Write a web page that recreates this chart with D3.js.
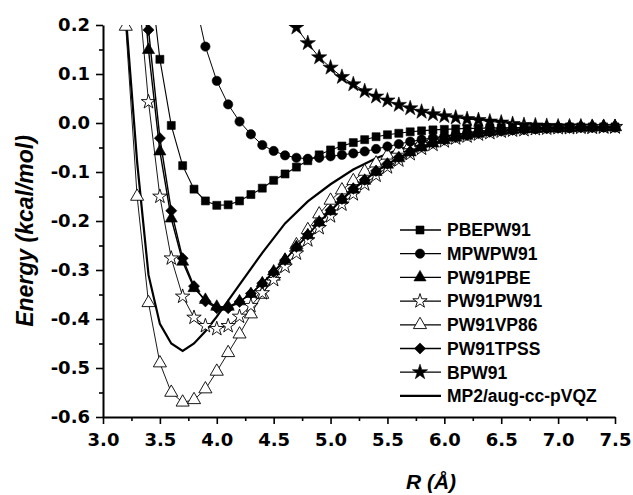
<!DOCTYPE html>
<html><head><meta charset="utf-8">
<script src="https://cdn.jsdelivr.net/npm/d3@7"></script>
<style>
html,body{margin:0;padding:0;background:#fff;}
svg{display:block;}
</style></head>
<body>
<svg id="chart" width="633" height="495"></svg>
<script>
// ---------- data ----------
const R = [3.1,3.2,3.3,3.4,3.5,3.6,3.7,3.8,3.9,4.0,4.1,4.2,4.3,4.4,4.5,4.6,4.7,4.8,4.9,5.0,
           5.1,5.2,5.3,5.4,5.5,5.6,5.7,5.8,5.9,6.0,6.1,6.2,6.3,6.4,6.5,6.6,6.7,6.8,6.9,7.0,
           7.1,7.2,7.3,7.4,7.5];

const PBEPW91 = [null,null,null,0.33,0.13,-0.005,-0.087,-0.135,-0.159,-0.168,-0.167,-0.159,-0.146,
  -0.133,-0.117,-0.104,-0.090,-0.077,-0.065,-0.055,-0.047,-0.040,-0.034,-0.028,-0.024,-0.021,-0.018,
  -0.016,-0.014,-0.013,-0.012,-0.011,-0.011,-0.010,-0.010,-0.010,-0.009,-0.009,-0.009,-0.009,-0.008,
  -0.008,-0.008,-0.008,-0.008];
const MPWPW91 = [null,null,null,null,null,null,null,0.26,0.156,0.086,0.038,0.003,-0.023,-0.045,-0.057,
  -0.066,-0.071,-0.073,-0.071,-0.068,-0.065,-0.062,-0.058,-0.053,-0.048,-0.043,-0.038,-0.034,-0.030,
  -0.027,-0.024,-0.021,-0.019,-0.017,-0.015,-0.014,-0.013,-0.012,-0.011,-0.010,-0.010,-0.009,-0.009,
  -0.009,-0.009];
const PW91PBE = [null,null,0.42,0.149,-0.058,-0.195,-0.283,-0.337,-0.361,-0.375,-0.375,-0.364,-0.349,
  -0.327,-0.303,-0.279,-0.253,-0.229,-0.203,-0.180,-0.157,-0.136,-0.118,-0.100,-0.085,-0.072,-0.060,
  -0.050,-0.042,-0.035,-0.030,-0.026,-0.022,-0.019,-0.017,-0.015,-0.013,-0.012,-0.011,-0.010,-0.010,
  -0.009,-0.009,-0.008,-0.008];
const PW91PW91 = [null,null,0.30,0.043,-0.15,-0.276,-0.354,-0.397,-0.414,-0.420,-0.414,-0.395,-0.373,
  -0.347,-0.320,-0.293,-0.266,-0.239,-0.214,-0.190,-0.166,-0.145,-0.125,-0.107,-0.090,-0.076,-0.063,
  -0.052,-0.044,-0.037,-0.031,-0.027,-0.023,-0.020,-0.017,-0.015,-0.014,-0.012,-0.011,-0.010,-0.010,
  -0.009,-0.009,-0.008,-0.008];
const PW91VP86 = [0.9,0.197,-0.15,-0.367,-0.49,-0.55,-0.57,-0.565,-0.543,-0.507,-0.469,-0.431,-0.39,
  -0.35,-0.313,-0.281,-0.249,-0.218,-0.186,-0.158,-0.137,-0.118,-0.099,-0.082,-0.066,-0.054,-0.045,
  -0.038,-0.032,-0.027,-0.023,-0.020,-0.017,-0.015,-0.013,-0.012,-0.011,-0.011,-0.010,-0.010,-0.009,
  -0.009,-0.008,-0.008,-0.008];
const PW91TPSS = [null,null,0.50,0.19,-0.031,-0.179,-0.276,-0.333,-0.364,-0.378,-0.378,-0.365,-0.348,
  -0.327,-0.304,-0.280,-0.253,-0.228,-0.202,-0.178,-0.155,-0.134,-0.116,-0.098,-0.083,-0.070,-0.058,
  -0.048,-0.040,-0.034,-0.029,-0.025,-0.021,-0.018,-0.016,-0.014,-0.013,-0.012,-0.011,-0.010,-0.010,
  -0.009,-0.009,-0.008,-0.008];
const BPW91 = [null,null,null,null,null,null,null,null,null,null,null,null,null,null,0.29,0.23,0.195,
  0.163,0.134,0.113,0.094,0.079,0.065,0.054,0.046,0.037,0.030,0.023,0.018,0.014,0.011,0.008,0.006,
  0.003,0.001,-0.002,-0.004,-0.005,-0.006,-0.007,-0.007,-0.007,-0.008,-0.008,-0.008];

const MP2_R = [3.2,3.3,3.4,3.5,3.6,3.7,3.8,3.9,4.0,4.2,4.4,4.6,4.8,5.0,5.2,5.4,5.6,5.8,6.0,6.5,7.0,7.5];
const MP2_E = [0.22,-0.08,-0.31,-0.41,-0.45,-0.465,-0.45,-0.425,-0.395,-0.33,-0.265,-0.205,-0.16,
  -0.125,-0.095,-0.072,-0.054,-0.043,-0.035,-0.02,-0.012,-0.009];

const seriesNames = ["PBEPW91","MPWPW91","PW91PBE","PW91PW91","PW91VP86","PW91TPSS","BPW91"];
const seriesValues = [PBEPW91,MPWPW91,PW91PBE,PW91PW91,PW91VP86,PW91TPSS,BPW91];
const mp2Name = "MP2/aug-cc-pVQZ";

const xTicks = [3.0,3.5,4.0,4.5,5.0,5.5,6.0,6.5,7.0,7.5];
const xTickLabels = ["3.0","3.5","4.0","4.5","5.0","5.5","6.0","6.5","7.0","7.5"];
const xMinor = [3.25,3.75,4.25,4.75,5.25,5.75,6.25,6.75,7.25];
const yTicks = [-0.6,-0.5,-0.4,-0.3,-0.2,-0.1,0.0,0.1,0.2];
const yTickLabels = ["-0.6","-0.5","-0.4","-0.3","-0.2","-0.1","0.0","0.1","0.2"];
const yMinor = [-0.55,-0.45,-0.35,-0.25,-0.15,-0.05,0.05,0.15];

// ---------- styles ----------
const squareDiamond = {draw(ctx,size){const r=Math.sqrt(size/2);
  ctx.moveTo(0,-r);ctx.lineTo(r,0);ctx.lineTo(0,r);ctx.lineTo(-r,0);ctx.closePath();}};
const markers = [
  {type:d3.symbolSquare, size:64, fill:"#000"},
  {type:d3.symbolCircle, size:68, fill:"#000"},
  {type:d3.symbolTriangle, size:64, fill:"#000"},
  {type:d3.symbolStar, size:64, fill:"#fff"},
  {type:d3.symbolTriangle, size:74, fill:"#fff"},
  {type:squareDiamond, size:62, fill:"#000"},
  {type:d3.symbolStar, size:72, fill:"#000"}
];
const lineW = [1.1,1.0,1.4,0.9,0.9,1.4,1.0];

// ---------- layout ----------
const svg = d3.select("#chart");
const x = d3.scaleLinear().domain([3.0,7.5]).range([103,615]);
const y = d3.scaleLinear().domain([-0.6,0.2]).range([417,25]);

svg.append("defs").append("clipPath").attr("id","plotclip")
  .append("rect").attr("x",103).attr("y",25).attr("width",520).attr("height",392);

const plot = svg.append("g").attr("clip-path","url(#plotclip)");

const line = d3.line().defined(d=>d[1]!==null).x(d=>x(d[0])).y(d=>y(d[1]));

// MP2 line
plot.append("path")
  .datum(MP2_R.map((r,i)=>[r,MP2_E[i]]))
  .attr("d",line).attr("fill","none").attr("stroke","#000").attr("stroke-width",2.2);

// series
const order = [6,4,3,1,0,2,5];
order.forEach(si=>{
  const pts = R.map((r,i)=>[r,seriesValues[si][i]]);
  const g = plot.append("g");
  g.append("path").datum(pts).attr("d",line).attr("fill","none")
    .attr("stroke","#000").attr("stroke-width",lineW[si]);
  const m = markers[si];
  g.selectAll("path.m").data(pts.filter(d=>d[1]!==null)).join("path")
    .attr("class","m")
    .attr("transform",d=>`translate(${x(d[0])},${y(d[1])})`)
    .attr("d",d3.symbol().type(m.type).size(m.size))
    .attr("fill",m.fill).attr("stroke","#000").attr("stroke-width",m.fill==="#fff"?0.9:0.6);
});

// ---------- axes ----------
const fontTick = "'DejaVu Sans', sans-serif";
svg.append("g").attr("transform","translate(0,417)")
  .call(d3.axisBottom(x).tickValues(xTicks).tickSize(7).tickSizeOuter(0)
        .tickFormat((d,i)=>xTickLabels[i]).tickPadding(9));
svg.append("g").attr("transform","translate(0,417)")
  .call(d3.axisBottom(x).tickValues(xMinor).tickSize(4).tickFormat(""))
  .call(g=>g.select(".domain").remove());
svg.append("g").attr("transform","translate(103,0)")
  .call(d3.axisLeft(y).tickValues(yTicks).tickSize(7).tickSizeOuter(0)
        .tickFormat((d,i)=>yTickLabels[i]).tickPadding(6));
svg.append("g").attr("transform","translate(103,0)")
  .call(d3.axisLeft(y).tickValues(yMinor).tickSize(4).tickFormat(""))
  .call(g=>g.select(".domain").remove());

svg.selectAll(".domain").attr("stroke","#000").attr("stroke-width",2);
svg.selectAll(".tick line").attr("stroke","#000").attr("stroke-width",1.6);
svg.selectAll(".tick text").attr("font-family",fontTick).attr("font-weight","bold")
  .attr("font-size",18).attr("fill","#000");

// axis titles
svg.append("text")
  .attr("transform","translate(33,231) rotate(-90)")
  .attr("text-anchor","middle")
  .attr("font-family","'Liberation Sans', Arial, sans-serif")
  .attr("font-weight","bold").attr("font-style","italic").attr("font-size",23)
  .text("Energy (kcal/mol)");
svg.append("text")
  .attr("x",431).attr("y",489)
  .attr("text-anchor","middle")
  .attr("font-family","'Liberation Sans', Arial, sans-serif")
  .attr("font-weight","bold").attr("font-style","italic").attr("font-size",21)
  .text("R (Å)");

// ---------- legend ----------
const legY0 = 230, legDy = 23.7;
const leg = svg.append("g");
seriesNames.concat([mp2Name]).forEach((name,i)=>{
  const cy = legY0 + i*legDy;
  const g = leg.append("g");
  if(i<7){
    g.append("line").attr("x1",400).attr("x2",441).attr("y1",cy).attr("y2",cy)
      .attr("stroke","#000").attr("stroke-width",1.3);
    const m = markers[i];
    g.append("path").attr("transform",`translate(420,${cy})`)
      .attr("d",d3.symbol().type(m.type).size(m.size))
      .attr("fill",m.fill).attr("stroke","#000").attr("stroke-width",m.fill==="#fff"?0.9:0.6);
  } else {
    g.append("line").attr("x1",400).attr("x2",441).attr("y1",cy).attr("y2",cy)
      .attr("stroke","#000").attr("stroke-width",2.2);
  }
  g.append("text").attr("x",447).attr("y",cy+6.3)
    .attr("font-family","'Liberation Sans', Arial, sans-serif")
    .attr("font-weight","bold").attr("font-size",17.5).attr("fill","#000")
    .text(name);
});
</script>
</body></html>
